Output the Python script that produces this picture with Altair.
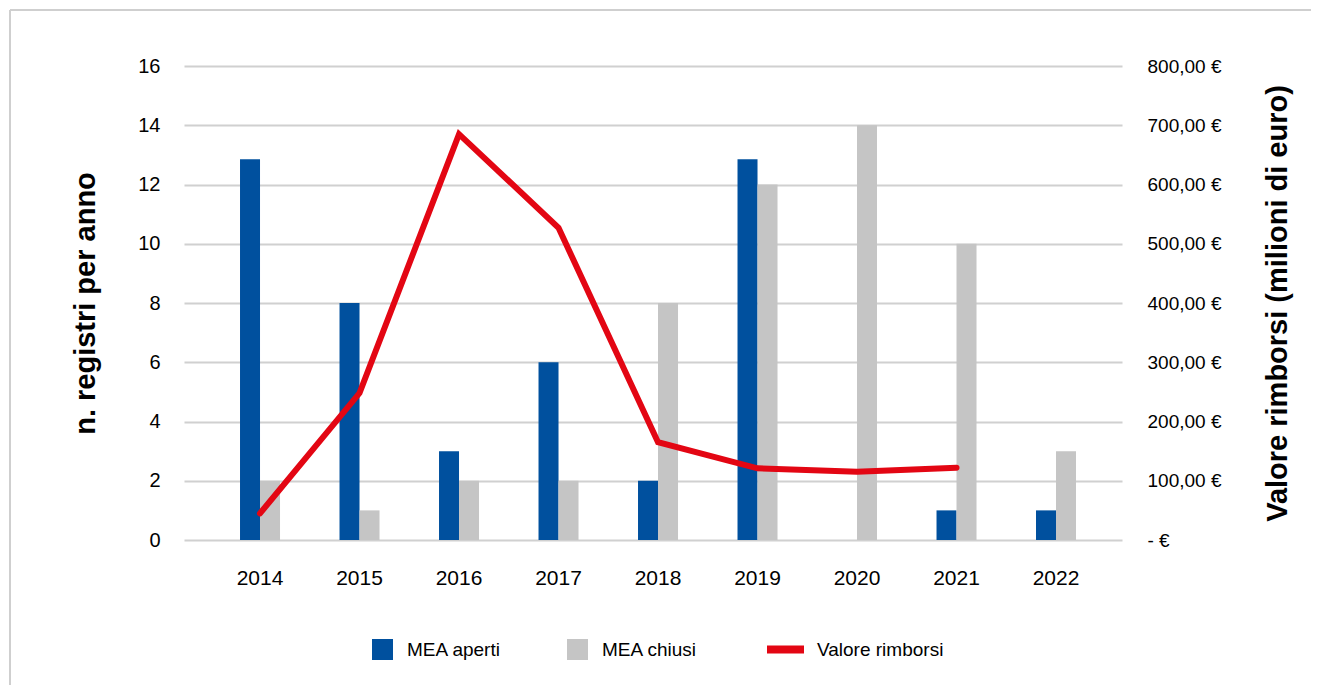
import altair as alt
import pandas as pd

# ---- data ----
years = ["2014", "2015", "2016", "2017", "2018", "2019", "2020", "2021", "2022"]
mea_aperti = [12.85, 8, 3, 6, 2, 12.85, 0, 1, 1]
mea_chiusi = [2, 1, 2, 2, 8, 12, 14, 10, 3]
valore_years = ["2014", "2015", "2016", "2017", "2018", "2019", "2020", "2021"]
valore_rimborsi = [45, 248, 685, 527, 165, 121, 115, 122]
bar_series = ["MEA aperti", "MEA chiusi"]
line_series = "Valore rimborsi"
left_ticks = [0, 2, 4, 6, 8, 10, 12, 14, 16]
right_ticks = [0, 100, 200, 300, 400, 500, 600, 700, 800]

BLUE = "#00509E"
GRAY = "#C5C5C5"
RED = "#E30613"
GRID = "#D0D0D0"
FRAME = "#CFCFCF"
FONT = "Liberation Sans"

bars_df = pd.DataFrame({
    "anno": years + years,
    "serie": [bar_series[0]] * len(years) + [bar_series[1]] * len(years),
    "valore": mea_aperti + mea_chiusi,
})
line_df = pd.DataFrame({
    "anno": valore_years,
    "valore": valore_rimborsi,
    "serie": [line_series] * len(valore_years),
})

x_enc = alt.X(
    "anno:N",
    sort=years,
    scale=alt.Scale(domain=years, paddingInner=0, paddingOuter=0.2136, align=0.618),
    axis=alt.Axis(title=None, labelAngle=0, labelFontSize=21, labelPadding=27,
                  domain=False, ticks=False, labelColor="#000000", labelFont=FONT),
)

frame_df = pd.DataFrame({"k": [0]})
frame_top = alt.Chart(frame_df).mark_rule(stroke=FRAME, strokeWidth=2).encode(
    x=alt.value(-174), x2=alt.value(1300), y=alt.value(-56)
)
frame_left = alt.Chart(frame_df).mark_rule(stroke=FRAME, strokeWidth=2).encode(
    x=alt.value(-174), y=alt.value(-56), y2=alt.value(800)
)

bars = alt.Chart(bars_df).mark_bar().encode(
    x=x_enc,
    xOffset=alt.XOffset("serie:N", sort=bar_series,
                        scale=alt.Scale(domain=bar_series, paddingInner=0, paddingOuter=0,
                                        range=[29.75, 69.75])),
    y=alt.Y(
        "valore:Q",
        scale=alt.Scale(domain=[0, 16], nice=False),
        axis=alt.Axis(
            orient="left", values=left_ticks, title="n. registri per anno",
            labelFontSize=20, labelPadding=24, labelColor="#000000", labelFont=FONT,
            domain=False, ticks=False, grid=True, gridColor=GRID, gridWidth=2,
            titleFontSize=29, titleFontWeight="bold", titleColor="#000000", titleFont=FONT,
            titleAngle=270, titleAlign="center", titleBaseline="middle",
            titleX=-99, titleY=237,
        ),
    ),
    color=alt.Color(
        "serie:N",
        sort=bar_series,
        scale=alt.Scale(domain=bar_series, range=[BLUE, GRAY]),
        legend=alt.Legend(
            orient="none", legendX=188, legendY=573, direction="horizontal",
            title=None, symbolType="square", symbolSize=441, symbolStrokeWidth=0,
            labelFontSize=19, labelOffset=14, columnPadding=66, padding=0,
            labelColor="#000000", labelFont=FONT,
        ),
    ),
)

line = alt.Chart(line_df).mark_line(
    strokeWidth=6, strokeCap="round", strokeJoin="miter"
).encode(
    x=x_enc,
    y=alt.Y(
        "valore:Q",
        scale=alt.Scale(domain=[0, 800], nice=False),
        axis=alt.Axis(
            orient="right", values=right_ticks, title="Valore rimborsi (milioni di euro)",
            labelExpr="datum.value == 0 ? '\u00a0\u00a0\u00a0\u00a0\u00a0-\u00a0€' : replace(format(datum.value, '.2f'), '.', ',') + ' €'",
            labelFontSize=19, labelPadding=25, labelColor="#000000", labelFont=FONT,
            domain=False, ticks=False, grid=False,
            titleFontSize=29, titleFontWeight="bold", titleColor="#000000", titleFont=FONT,
            titleAngle=270, titleAlign="center", titleBaseline="middle",
            titleX=155, titleY=237,
        ),
    ),
    stroke=alt.Stroke(
        "serie:N",
        scale=alt.Scale(domain=[line_series], range=[RED]),
        legend=alt.Legend(
            orient="none", legendX=579, legendY=561, title=None,
            symbolType="stroke", symbolSize=1369, symbolStrokeWidth=8,
            labelFontSize=19, labelOffset=9, padding=0,
            labelColor="#000000", labelFont=FONT,
        ),
    ),
)

chart = alt.layer(frame_top, frame_left, bars, line).resolve_scale(
    y="independent"
).properties(
    width=938, height=474,
    padding={"left": 176, "top": 58, "right": 189, "bottom": 145},
    autosize=alt.AutoSizeParams(type="none"),
).configure(
    font=FONT
).configure_view(
    stroke=None
)

chart.save("out.html", embed_options={"renderer": "svg", "actions": False})
